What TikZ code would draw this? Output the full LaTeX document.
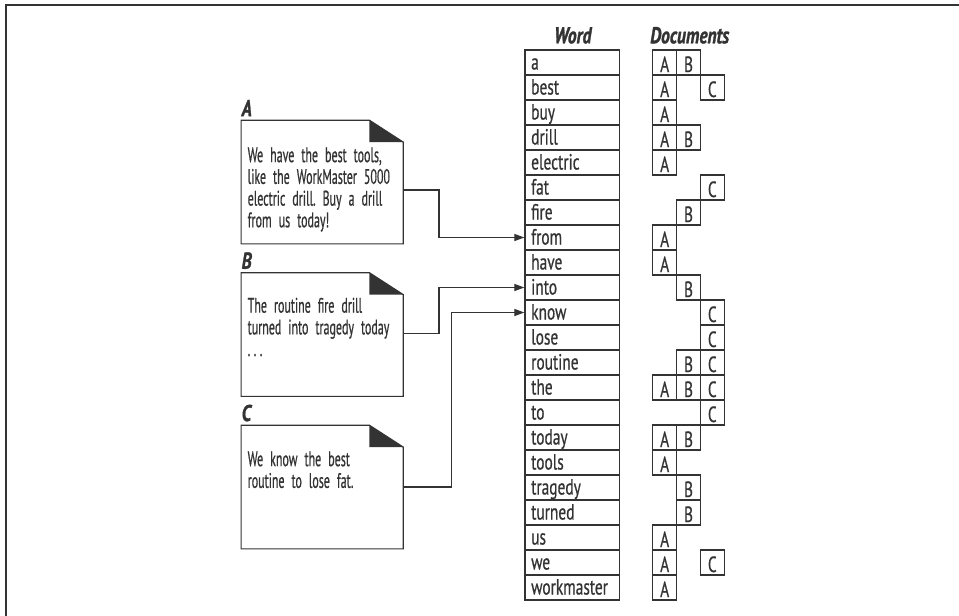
\documentclass[tikz,border=0pt]{standalone}
\usepackage{fontspec}
\setmainfont{PT Sans}[FakeStretch=0.7, FakeBold=0.6]
\newfontfamily\docfamily{PT Sans}[FakeStretch=0.57, FakeBold=0.6]
\newfontfamily\headfamily{PT Sans}[FakeStretch=0.76, FakeBold=1.2]
\usetikzlibrary{positioning,arrows.meta}
\definecolor{ink}{HTML}{333333}
\newcommand{\bodyfont}{\fontsize{22}{22}\selectfont}
\newcommand{\pagefont}{\docfamily\fontsize{21}{21.7}\selectfont\frenchspacing}
\tikzset{every picture/.style={line width=1.2pt}}

\begin{document}
\begin{tikzpicture}[x=1pt, y=-1pt, >={Triangle[length=10pt,width=7pt]}, draw=ink,
    every node/.style={font=\bodyfont, text=ink},
    wordcell/.style={draw, minimum width=94.5pt, minimum height=25pt, inner xsep=6pt, inner ysep=0pt,
      text width=82pt, align=left, text height=14pt, text depth=0pt},
    doccell/.style={draw, minimum width=24pt, minimum height=25pt, inner sep=0pt, text height=19pt, text depth=0pt},
    docpage/.style={minimum width=161pt, minimum height=122.5pt, inner sep=0pt},
    doctext/.style={anchor=base west, text width=220pt, align=left, inner sep=0pt, font=\pagefont},
    head/.style={font=\headfamily\bfseries\itshape\fontsize{23}{22}\selectfont, anchor=base}]
  \useasboundingbox (0,0) rectangle (959,616);
  \draw[line width=2pt] (6,616) -- (6,5) -- (959,5);

  % index: words and the documents they occur in
  \node[head] (wordhead) at (572.8,43.3) {Word};
  \node[head] (dochead)  at (689.7,43.3) {Documents};
  \coordinate (colA) at (664.7,0);
  \coordinate (colB) at (688.5,0);
  \coordinate (colC) at (712.3,0);
  \foreach \w/\docs [count=\i] in {a/{A,B}, best/{A,C}, buy/A, drill/{A,B}, electric/A, fat/C,
      fire/B, from/A, have/A, into/B, know/C, lose/C, routine/{B,C}, the/{A,B,C}, to/C,
      today/{A,B}, tools/A, tragedy/B, turned/B, us/A, we/{A,C}, workmaster/A}{
    \node[wordcell] (w\i) at (572.2,37.5+25*\i) {\w};
    \foreach \d in \docs \node[doccell] at (col\d |- w\i) {\d};
  }

  % documents
  \foreach \p/\y in {A/182, B/334.5, C/487}{
    \node[docpage] (doc\p) at (322.2,\y) {};
    \draw (doc\p.north west) -- ([xshift=-34pt]doc\p.north east) -- ([yshift=-22pt]doc\p.north east)
      -- (doc\p.south east) -- (doc\p.south west) -- cycle;
    \fill[ink] ([xshift=-34pt]doc\p.north east) -- ([xshift=-34pt,yshift=-22pt]doc\p.north east)
      -- ([yshift=-22pt]doc\p.north east) -- cycle;
    \node[head, anchor=base west, inner sep=0pt] (lab\p) at ([yshift=4pt]doc\p.north west) {\p};
  }
  \node[doctext] (txtA) at ([xshift=6pt,yshift=-42pt]docA.north west)
    {We have the best tools,\\like the WorkMaster 5000\\electric drill. Buy a drill\\from us today!};
  \node[doctext] (txtB) at ([xshift=6pt,yshift=-40pt]docB.north west)
    {The routine fire drill\\turned into tragedy today\\.\,.\,.};
  \node[doctext] (txtC) at ([xshift=6pt,yshift=-41pt]docC.north west)
    {We know the best\\routine to lose fat.};

  % links into the index
  \draw[->] ([yshift=-8pt]docA.east) -- ++(35.6,0) |- (w8.west);
  \draw[->] ([yshift=1pt]docB.east) -- ++(35.6,0) |- (w10.west);
  \draw[->] (docC.east) -- ++(48.3,0) |- (w11.west);
\end{tikzpicture}
\end{document}
